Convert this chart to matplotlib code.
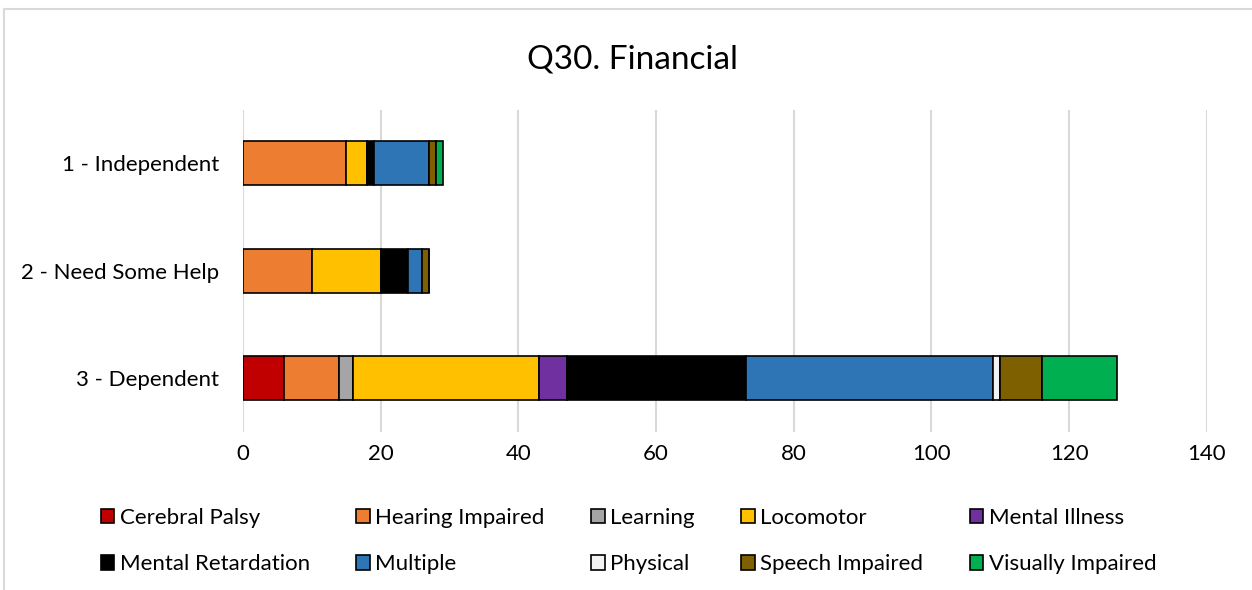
import numpy as np
import matplotlib

matplotlib.use("Agg")
import matplotlib.pyplot as plt  # noqa: E402
from matplotlib.lines import Line2D  # noqa: E402

categories = ["1 - Independent", "2 - Need Some Help", "3 - Dependent"]
series = ["Cerebral Palsy", "Hearing Impaired", "Learning", "Locomotor",
          "Mental Illness", "Mental Retardation", "Multiple", "Physical",
          "Speech Impaired", "Visually Impaired"]
values = {
    "Cerebral Palsy":     [0, 0, 6],
    "Hearing Impaired":   [15, 10, 8],
    "Learning":           [0, 0, 2],
    "Locomotor":          [3, 10, 27],
    "Mental Illness":     [0, 0, 4],
    "Mental Retardation": [1, 4, 26],
    "Multiple":           [8, 2, 36],
    "Physical":           [0, 0, 1],
    "Speech Impaired":    [1, 1, 6],
    "Visually Impaired":  [1, 0, 11],
}
colors = ["#C00000", "#ED7D31", "#A5A5A5", "#FFC000", "#7030A0",
          "#000000", "#2E75B6", "#F2F2F2", "#7F6000", "#00B050"]

plt.rcParams["font.family"] = ["Lato", "DejaVu Sans"]

fig = plt.figure(figsize=(12.52, 5.9), dpi=100)
ax = fig.add_axes([0.194, 0.268, 0.77, 0.546])

y = np.arange(len(categories))
left = np.zeros(len(categories))
handles = {}
for name, c in zip(series, colors):
    v = np.array(values[name], dtype=float)
    b = ax.barh(y, v, left=left, height=0.41, color=c, edgecolor="black",
                linewidth=1.2, label=name, zorder=3)
    handles[name] = b
    left += v

ax.set_xlim(0, 140)
ax.set_ylim(2.5, -0.5)
ax.set_xticks(np.arange(0, 141, 20))
ax.set_yticks(y)
ax.set_yticklabels(categories)
ax.tick_params(length=0, labelsize=16, colors="black", pad=17)
ax.tick_params(axis="x", pad=9)
ax.grid(axis="x", color="#d9d9d9", linewidth=1.5, zorder=0)
for s in ax.spines.values():
    s.set_visible(False)

fig.suptitle("Q30. Financial", x=0.505, y=0.925, fontsize=24)

order = ["Cerebral Palsy", "Mental Retardation", "Hearing Impaired", "Multiple",
         "Learning", "Physical", "Locomotor", "Speech Impaired",
         "Mental Illness", "Visually Impaired"]
fig.legend([handles[n] for n in order], order, ncol=5, loc="center",
           bbox_to_anchor=(0.502, 0.083), frameon=False, fontsize=16,
           handlelength=0.6, handleheight=0.6, handletextpad=0.25,
           columnspacing=2.1, labelspacing=1.2)

# chart border remnants
fig.add_artist(Line2D([0.0035, 1.0], [0.984, 0.984], color="#d9d9d9", lw=1.5))
fig.add_artist(Line2D([0.0035, 0.0035], [0.0, 0.984], color="#d9d9d9", lw=1.5))

fig.savefig("out.png", dpi=100)
